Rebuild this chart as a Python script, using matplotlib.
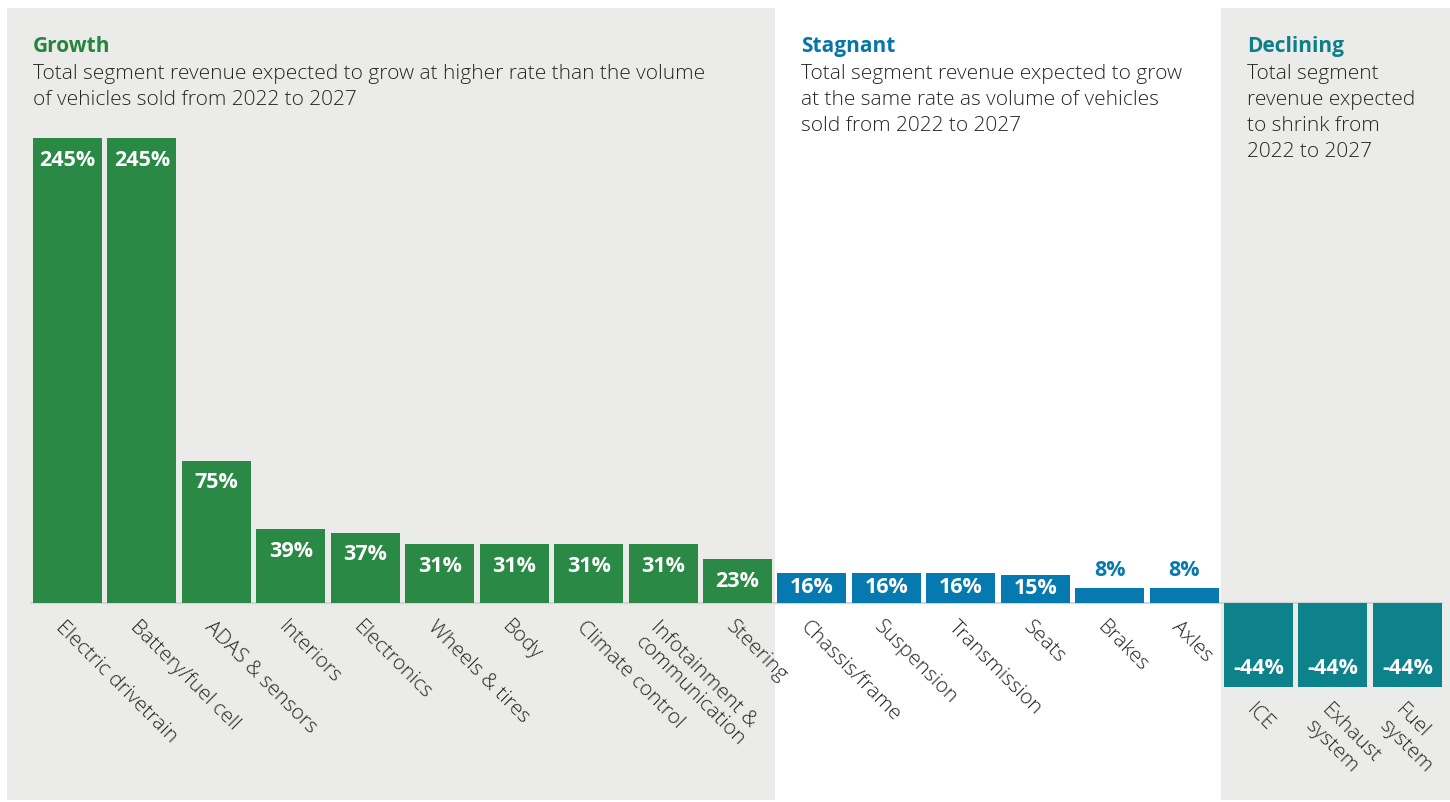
import matplotlib
matplotlib.use("Agg")
import matplotlib.pyplot as plt
import matplotlib.transforms as mtransforms
import numpy as np

# ---------------------------------------------------------------------------
# Data: expected revenue change 2022 -> 2027 by vehicle segment
# ---------------------------------------------------------------------------
categories = [
    "Electric drivetrain", "Battery/fuel cell", "ADAS & sensors", "Interiors",
    "Electronics", "Wheels & tires", "Body", "Climate control",
    "Infotainment &\ncommunication", "Steering",
    "Chassis/frame", "Suspension", "Transmission", "Seats", "Brakes", "Axles",
    "ICE", "Exhaust\nsystem", "Fuel\nsystem",
]
change_pct = [245, 245, 75, 39, 37, 31, 31, 31, 31, 23,
              16, 16, 16, 15, 8, 8,
              -44, -44, -44]
group_of = [0] * 10 + [1] * 6 + [2] * 3

group_names = ["Growth", "Stagnant", "Declining"]
group_notes = [
    ["Total segment revenue expected to grow at higher rate than the volume",
     "of vehicles sold from 2022 to 2027"],
    ["Total segment revenue expected to grow",
     "at the same rate as volume of vehicles",
     "sold from 2022 to 2027"],
    ["Total segment", "revenue expected", "to shrink from", "2022 to 2027"],
]

# ---------------------------------------------------------------------------
# Style
# ---------------------------------------------------------------------------
GREEN = "#2a8a45"
BLUE = "#0579b0"
TEAL = "#0e828b"
HEAD_COLORS = ["#26843f", "#0476ab", "#0d7f89"]
PANEL_GREY = "#ebebea"
TEXT = "#262626"
FONT = "Open Sans"

W_PX, H_PX = 1450, 802
BAR_W = 0.927
XLIM = (-0.907, 18.572)
YLIM = (-104.8, 317.7)
PX_PER_UNIT = H_PX / (YLIM[1] - YLIM[0])
PX_PER_SLOT = W_PX / (XLIM[1] - XLIM[0])

fig = plt.figure(figsize=(W_PX / 100, H_PX / 100), dpi=100)
fig.patch.set_facecolor("white")
ax = fig.add_axes([0, 0, 1, 1])
ax.set_xlim(*XLIM)
ax.set_ylim(*YLIM)
ax.axis("off")

x = np.arange(len(categories))
vals = np.array(change_pct, dtype=float)
groups = np.array(group_of)
bar_colors = [[GREEN, BLUE, TEAL][g] for g in group_of]

# ── Shaded panels (Growth / Declining) ────────────────────────────────────
edges = [x[0] - 0.813]
for g in (1, 2):
    edges.append(x[groups == g][0] - 0.5)
edges.append(XLIM[1] + 0.1)
panel_lo, panel_hi = 2 / H_PX, 1 - 8 / H_PX
for g in (0, 2):
    ax.axvspan(edges[g], edges[g + 1], ymin=panel_lo, ymax=panel_hi,
               color=PANEL_GREY, lw=0, zorder=0)

# ── Baseline & bars ───────────────────────────────────────────────────────
ax.hlines(0, x[0] - 0.5, x[-1] + 0.48, color="#d5d5d5", lw=1.6, zorder=1)
ax.bar(x, vals, width=BAR_W, color=bar_colors, zorder=2)

# ── Value labels ──────────────────────────────────────────────────────────
lbl_kw = dict(ha="center", va="center", fontsize=15.5, fontweight="bold",
              family=FONT, zorder=3)
for xi, v, c in zip(x, vals, bar_colors):
    txt = f"{v:.0f}%"
    if 0 < v < 10:
        ax.text(xi, v + 17 / PX_PER_UNIT, txt, color=c, **lbl_kw)
    elif v > 0:
        y = max(v - 22 / PX_PER_UNIT, v / 2)
        ax.text(xi, y, txt, color="white", **lbl_kw)
    else:
        ax.text(xi, v + 18 / PX_PER_UNIT, txt, color="white", **lbl_kw)

# ── Category labels, rotated ─────────────────────────────────────────────
for xi, v, lab in zip(x, vals, categories):
    y0 = min(v, 0) - 14 / PX_PER_UNIT
    ax.text(xi - 2 / PX_PER_SLOT, y0, lab, rotation=-45,
            rotation_mode="anchor", ha="left", va="top", color=TEXT,
            fontsize=15, fontweight="light", family=FONT, linespacing=1.15,
            zorder=3)

# ── Group headers ─────────────────────────────────────────────────────────
trans = mtransforms.blended_transform_factory(ax.transData, fig.transFigure)
for g in range(3):
    hx = edges[g] + 26 / PX_PER_SLOT
    ax.text(hx, 1 - 52 / H_PX, group_names[g], transform=trans,
            ha="left", va="baseline", color=HEAD_COLORS[g], fontsize=15,
            fontweight="bold", family=FONT)
    for k, line in enumerate(group_notes[g]):
        ax.text(hx, 1 - (79 + 26 * k) / H_PX, line, transform=trans,
                ha="left", va="baseline", color=TEXT, fontsize=15,
                fontweight="light", family=FONT)

fig.savefig("out.png", dpi=100, facecolor=fig.get_facecolor())
